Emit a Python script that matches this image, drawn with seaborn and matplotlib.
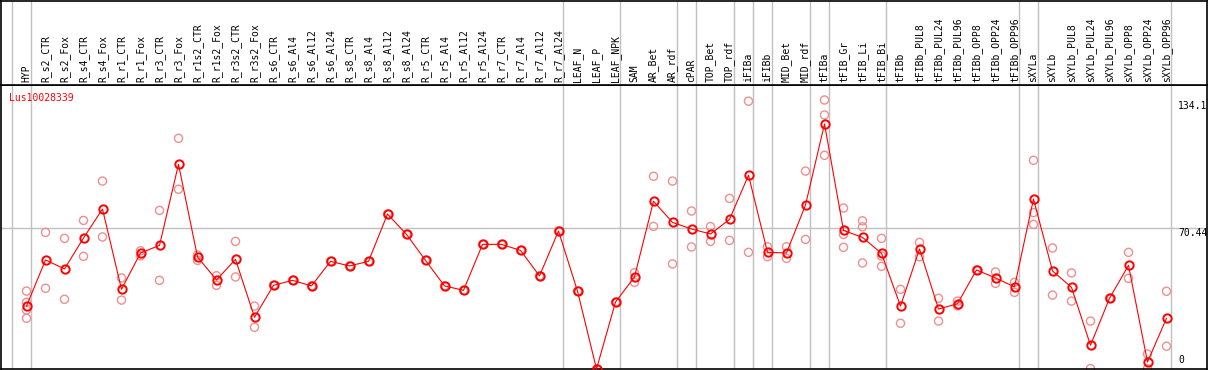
import numpy as np
import pandas as pd
import matplotlib
matplotlib.use("Agg")
import matplotlib.pyplot as plt
import seaborn as sns

categories = ["HYP", "R_s2_CTR", "R_s2_Fox", "R_s4_CTR", "R_s4_Fox", "R_r1_CTR", "R_r1_Fox",
              "R_r3_CTR", "R_r3_Fox", "R_r1s2_CTR", "R_r1s2_Fox", "R_r3s2_CTR", "R_r3s2_Fox",
              "R_s6_CTR", "R_s6_Al4", "R_s6_Al12", "R_s6_Al24", "R_s8_CTR", "R_s8_Al4", "R_s8_Al12",
              "R_s8_Al24", "R_r5_CTR", "R_r5_Al4", "R_r5_Al12", "R_r5_Al24", "R_r7_CTR", "R_r7_Al4",
              "R_r7_Al12", "R_r7_Al24", "LEAF_N", "LEAF_P", "LEAF_NPK", "SAM", "AR_Bet", "AR_rdf",
              "cPAR", "TOP_Bet", "TOP_rdf", "iFIBa", "iFIBb", "MID_Bet", "MID_rdf", "tFIBa",
              "tFIB_Gr", "tFIB_Li", "tFIB_Bi", "tFIBb", "tFIBb_PUL8", "tFIBb_PUL24", "tFIBb_PUL96",
              "tFIBb_OPP8", "tFIBb_OPP24", "tFIBb_OPP96", "sXYLa", "sXYLb", "sXYLb_PUL8",
              "sXYLb_PUL24", "sXYLb_PUL96", "sXYLb_OPP8", "sXYLb_OPP24", "sXYLb_OPP96"]

mean_values = [31.5, 54.6, 50.1, 65.6, 80.1, 39.9, 58.1, 61.9, 102.5, 56.1, 44.6, 54.9, 25.9,
               41.9, 44.4, 41.6, 53.9, 51.6, 53.9, 77.6, 67.4, 54.4, 41.6, 39.4, 62.4, 62.4, 59.4,
               46.6, 69.1, 39.0, 0.0, 33.5, 46.1, 84.0, 73.4, 70.1, 67.6, 74.9, 97.0, 58.4, 58.1,
               82.1, 122.7, 69.4, 65.9, 57.9, 31.5, 60.1, 30.0, 32.7, 49.6, 45.6, 41.1, 85.1, 49.1,
               40.9, 11.9, 35.4, 51.9, 3.5, 25.4]

replicate_values = [
    [39.0, 33.4, 29.5, 25.4], [68.4, 40.4], [65.4, 34.9], [74.4, 56.4], [94.1, 66.1],
    [45.6, 34.5], [59.2, 56.7], [79.4, 44.4], [115.5, 90.0], [57.1, 54.4], [46.7, 41.9],
    [63.9, 46.1], [31.5, 20.9],
    [41.9], [44.4], [41.6], [53.9], [51.6], [53.9], [77.6], [67.4], [54.4], [41.6], [39.4],
    [62.4], [62.4], [59.4], [46.6], [69.1], [39.0], [0.0], [33.5],
    [48.2, 43.4], [96.5, 71.4], [94.1, 52.6], [79.1, 61.1], [71.3, 63.9], [85.4, 64.4],
    [134.1, 58.4], [61.2, 56.2], [61.2, 55.4], [99.1, 64.9], [134.7, 127.2, 107.0],
    [80.6, 67.4, 60.9], [74.2, 71.2, 53.1], [65.4, 56.6, 51.4], [39.9, 22.9], [63.4, 56.2],
    [35.4, 24.0], [34.0, 31.6], [49.6], [48.6, 42.9], [43.4, 38.4], [104.5, 78.3, 72.4],
    [60.6, 37.0], [48.1, 34.0], [24.0, 0.2], [35.4], [58.4, 45.4], [7.5, 0.2], [38.9, 11.4]]

group_boundaries = [-1, 0, 28, 31, 34, 35, 37, 38, 39, 41, 42, 45, 52, 53, 60]
y_tick_values = [134.1, 70.44, 0]
y_tick_labels = ["134.1", "70.44", "0"]
gene_name = "Lus10028339"

sns.set_style("white")
plt.rcParams["font.family"] = ["DejaVu Sans Mono", "DejaVu Sans"]

W, H = 1209, 370
fig = plt.figure(figsize=(W / 100, H / 100), dpi=100)
fig.patch.set_facecolor("white")

xlim = ((1 - 26.5) / 19, (1207 - 26.5) / 19)
ylim = (0, 142.2)

ax = fig.add_axes([1 / W, 1 / H, 1206 / W, 284 / H])
lab = fig.add_axes([1 / W, 285 / H, 1206 / W, 84.5 / H])

for a in (ax, lab):
    a.set_xlim(*xlim)
    a.set_xticks([])
    a.set_yticks([])
    for s in a.spines.values():
        s.set_color("black")
        s.set_linewidth(1.2)
    a.set_facecolor("white")
    for b in group_boundaries:
        a.axvline(b + 0.24, color="#c0c0c0", lw=1.0, zorder=0)

ax.set_ylim(*ylim)
lab.set_ylim(0, 1)
ax.axhline(70.44, color="#c0c0c0", lw=1.0, zorder=0)

xs = np.arange(len(categories))
rep_df = pd.DataFrame({
    "x": np.concatenate([[i] * len(r) for i, r in enumerate(replicate_values)]),
    "y": np.concatenate(replicate_values),
})
mean_df = pd.DataFrame({"x": xs, "y": mean_values})

sns.scatterplot(data=rep_df, x="x", y="y", ax=ax, marker="o", s=34,
                fc="none", ec="#ef8f8f", linewidth=1.0, zorder=2, clip_on=False)
sns.lineplot(data=mean_df, x="x", y="y", ax=ax, color="red", lw=0.8,
             marker="o", markersize=6.0, markerfacecolor="none",
             markeredgecolor="red", markeredgewidth=1.4, zorder=3, clip_on=False)
ax.set_xlim(*xlim)
ax.set_ylim(*ylim)
ax.set_xlabel("")
ax.set_ylabel("")
ax.set_xticks([])
ax.set_yticks([])

for i, c in enumerate(categories):
    lab.text(i, 0.03, c, rotation=90, ha="center", va="bottom", fontsize=7,
             color="black")

for v, t in zip(y_tick_values, y_tick_labels):
    if v == 0:
        ax.text(60.6, 2.0, t, ha="left", va="bottom", fontsize=7, color="black")
    else:
        ax.text(60.6, v, t, ha="left", va="top", fontsize=7, color="black")

ax.text(0.0069, 0.955, gene_name, transform=ax.transAxes, ha="left", va="center",
        fontsize=7, color="red")

fig.savefig("out.png", dpi=100, facecolor="white")
